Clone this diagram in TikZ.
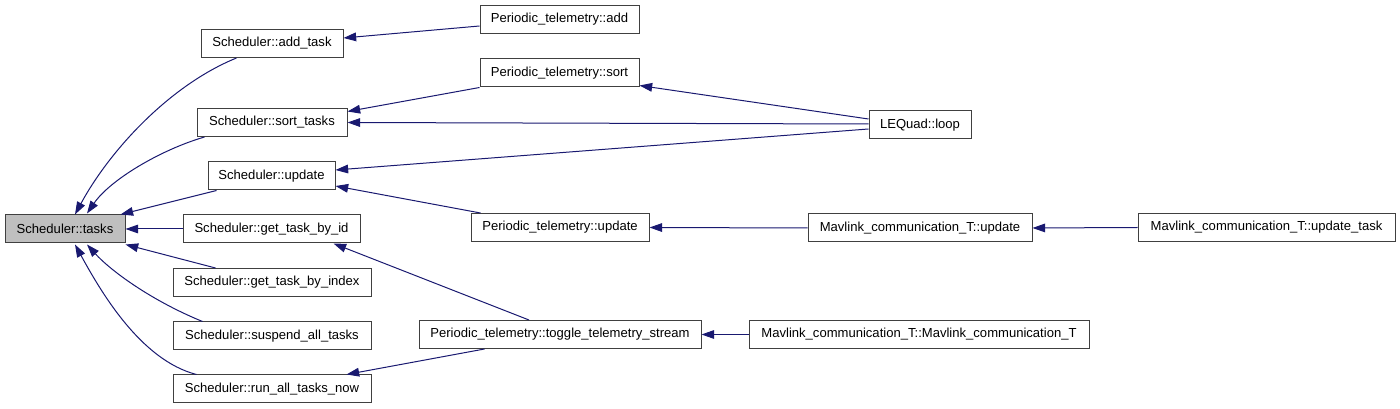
\documentclass[tikz,border=0pt]{standalone}
\usepackage{fontspec}
\setmainfont{Liberation Sans}
\usetikzlibrary{arrows.meta,calc}
\definecolor{edgeblue}{HTML}{191970}
\definecolor{boxline}{HTML}{404040}
\definecolor{tasksgray}{HTML}{BFBFBF}
\begin{document}
\begin{tikzpicture}[x=0.75pt,y=-0.75pt,
  fn/.style={draw=boxline, line width=0.75pt, fill=white, minimum height=28*0.75pt,
             minimum width=#1*0.75pt, inner sep=0pt, font=\fontsize{9.8}{12}\selectfont},
  call/.style={draw=edgeblue, line width=0.75pt, -{Triangle[length=9.5pt,width=6.5pt]}}]
\useasboundingbox (0,0) rectangle (1400,409);
% nodes
\node[fn=120, fill=tasksgray] (tasks) at (65,229) {Scheduler::tasks};
\node[fn=142] (addtask) at (272,43.5) {Scheduler::add\_task};
\node[fn=150] (sorttasks) at (272,122.5) {Scheduler::sort\_tasks};
\node[fn=127] (update) at (271.5,176) {Scheduler::update};
\node[fn=177] (getid) at (271.5,229) {Scheduler::get\_task\_by\_id};
\node[fn=198] (getindex) at (272,282.5) {Scheduler::get\_task\_by\_index};
\node[fn=198] (suspend) at (272,336) {Scheduler::suspend\_all\_tasks};
\node[fn=198] (runall) at (272,389) {Scheduler::run\_all\_tasks\_now};
\node[fn=159] (padd) at (559.5,19.5) {Periodic\_telemetry::add};
\node[fn=159] (psort) at (559.5,73) {Periodic\_telemetry::sort};
\node[fn=102] (lequad) at (920,125) {LEQuad::loop};
\node[fn=178] (pupdate) at (560,227.5) {Periodic\_telemetry::update};
\node[fn=282] (toggle) at (560,334.5) {Periodic\_telemetry::toggle\_telemetry\_stream};
\node[fn=224] (mavupdate) at (920,228) {Mavlink\_communication\_T::update};
\node[fn=257] (updatetask) at (1266.5,227.5) {Mavlink\_communication\_T::update\_task};
\node[fn=340] (mavctor) at (919,334.5) {Mavlink\_communication\_T::Mavlink\_communication\_T};
% edges into Scheduler::tasks
\draw[call] ($(addtask.south west)+(36,0)$) .. controls (170,85) and (110,150) .. ($(tasks.north)+(10,0)$);
\draw[call] ($(sorttasks.south west)+(8,0)$) .. controls (160,150) and (110,180) .. ($(tasks.north)+(22,-1)$);
\draw[call] ($(update.south west)+(9,0)$) -- ($(tasks.north east)+(-5,0)$);
\draw[call] (getid.west) -- (tasks.east);
\draw[call] ($(getindex.north west)+(43,0)$) -- ($(tasks.south east)+(0,1)$);
\draw[call] ($(suspend.north west)+(30,0)$) .. controls (150,300) and (110,270) .. ($(tasks.south)+(22,1)$);
\draw[call] ($(runall.north west)+(24,0)$) .. controls (140,360) and (100,290) .. ($(tasks.south)+(10,1)$);
% right side
\draw[call] ($(padd.west)+(0,6.5)$) -- ($(addtask.east)+(0,-5.5)$);
\draw[call] ($(psort.south west)+(0,0)$) -- ($(sorttasks.east)+(0,-11)$);
\draw[call] ($(lequad.west)+(0,-6)$) -- ($(psort.south east)+(0,-2)$);
\draw[call] ($(lequad.west)+(0,-1)$) -- (sorttasks.east);
\draw[call] ($(lequad.west)+(0,4)$) -- ($(update.east)+(0,-6)$);
\draw[call] ($(pupdate.north west)+(10,0)$) -- ($(update.east)+(0,10)$);
\draw[call] (mavupdate.west) -- (pupdate.east);
\draw[call] (updatetask.west) -- (mavupdate.east);
\draw[call] ($(toggle.north)+(-31,0)$) -- ($(getid.south east)+(-27,0)$);
\draw[call] ($(toggle.south west)+(66,0)$) -- ($(runall.north east)+(-25,0)$);
\draw[call] (mavctor.west) -- (toggle.east);
\end{tikzpicture}
\end{document}
